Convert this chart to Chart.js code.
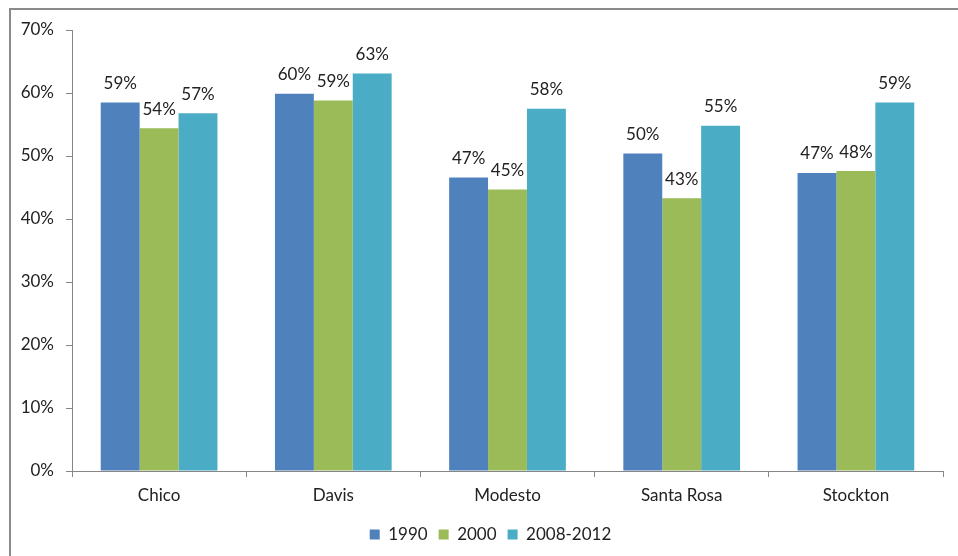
<!DOCTYPE html>
<html>
<head>
<meta charset="utf-8">
<script src="https://cdn.jsdelivr.net/npm/chart.js@4"></script>
<style>
  html, body { margin: 0; padding: 0; background: #fff; overflow: hidden; }
  #wrap { position: relative; width: 958px; height: 556px; }
  #frame { position: absolute; left: 9px; top: 8px; width: 1000px; height: 600px;
           border: 2px solid #8a8a8a; box-sizing: border-box; pointer-events: none; }
  canvas { position: absolute; left: 0; top: 0; }
</style>
</head>
<body>
<div id="wrap">
  <canvas id="c" width="958" height="556"></canvas>
  <div id="frame"></div>
</div>
<script>
// Share of residents, by city and period (percent)
const cities = ['Chico', 'Davis', 'Modesto', 'Santa Rosa', 'Stockton'];
const seriesNames = ['1990', '2000', '2008-2012'];
const values1990 = [58.5, 59.9, 46.6, 50.4, 47.3];
const values2000 = [54.4, 58.8, 44.7, 43.3, 47.6];
const values2008 = [56.8, 63.1, 57.5, 54.8, 58.5];
const yTicks = [0, 10, 20, 30, 40, 50, 60, 70];

const colors = ['#4F81BD', '#9BBB59', '#4BACC6'];
const FONT = 'Lato, "Liberation Sans", sans-serif';
const FS = 17;
const TEXT = '#222222';
const AXIS = '#868686';

// Value labels above each bar
const barLabels = {
  id: 'barLabels',
  afterDatasetsDraw(chart) {
    const ctx = chart.ctx;
    ctx.save();
    ctx.font = FS + 'px ' + FONT;
    ctx.fillStyle = TEXT;
    ctx.textAlign = 'center';
    ctx.textBaseline = 'middle';
    chart.data.datasets.forEach((ds, i) => {
      chart.getDatasetMeta(i).data.forEach((bar, j) => {
        ctx.fillText(Math.round(ds.data[j]) + '%', bar.x, bar.y - 19);
      });
    });
    ctx.restore();
  }
};

// Centre the legend under the plot and its axis labels rather than the full canvas
const legendShift = {
  id: 'legendShift',
  afterLayout(chart) {
    const lg = chart.legend;
    if (!lg) return;
    const dx = 19;
    lg.left += dx;
    lg.right += dx;
    lg.adjustHitBoxes();
  }
};

new Chart(document.getElementById('c'), {
  type: 'bar',
  data: {
    labels: cities,
    datasets: [values1990, values2000, values2008].map((d, i) => ({
      label: seriesNames[i],
      data: d,
      backgroundColor: colors[i],
      borderWidth: 0,
      categoryPercentage: 0.67,
      barPercentage: 1.0
    }))
  },
  options: {
    responsive: false,
    animation: false,
    devicePixelRatio: 1,
    layout: { padding: { left: 0, right: 15, top: 30, bottom: 3 } },
    plugins: {
      tooltip: { enabled: false },
      legend: {
        position: 'bottom',
        labels: {
          boxWidth: 10, boxHeight: 10, padding: 11,
          color: TEXT, font: { family: FONT, size: FS }
        }
      }
    },
    scales: {
      x: {
        grid: { display: true, drawOnChartArea: false, drawTicks: true, tickLength: 6, color: AXIS, offset: true },
        border: { display: true, color: AXIS, width: 1 },
        ticks: { color: TEXT, font: { family: FONT, size: FS }, padding: 8, maxRotation: 0 },
        afterFit(s) { s.height = 44; }
      },
      y: {
        min: 0, max: 70,
        afterBuildTicks(s) { s.ticks = yTicks.map(v => ({ value: v })); },
        grid: { display: true, drawOnChartArea: false, drawTicks: true, tickLength: 6, color: AXIS },
        border: { display: true, color: AXIS, width: 1 },
        ticks: { color: TEXT, font: { family: FONT, size: FS }, padding: 12, callback: v => v + '%' },
        afterFit(s) { s.width = 72; }
      }
    }
  },
  plugins: [barLabels, legendShift]
});
</script>
</body>
</html>
